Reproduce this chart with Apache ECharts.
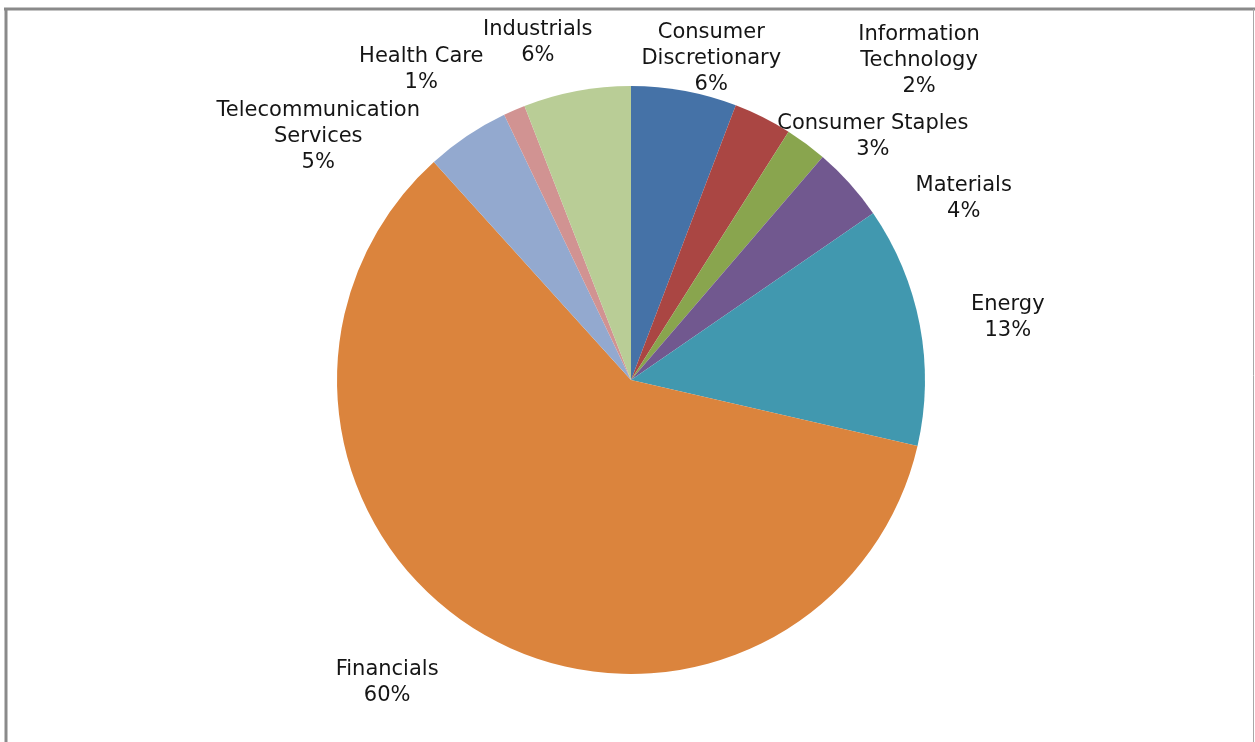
<!DOCTYPE html>
<html>
<head>
<meta charset="utf-8">
<script src="https://cdn.jsdelivr.net/npm/echarts@6/dist/echarts.min.js"></script>
<style>
  html, body { margin: 0; padding: 0; background: #fff; }
  #main { width: 1255px; height: 742px; }
</style>
</head>
<body>
<div id="main"></div>
<script>
// sectors, clockwise from 12 o'clock
const sectors = [
  'Consumer\nDiscretionary',
  'Consumer Staples',
  'Information\nTechnology',
  'Materials',
  'Energy',
  'Financials',
  'Telecommunication\nServices',
  'Health Care',
  'Industrials'
];
const weights = [5.8, 3.2, 2.3, 4.1, 13.2, 59.7, 4.6, 1.2, 5.9];

const colors = ['#4572A7', '#AA4643', '#89A54E', '#71588F', '#4198AF',
  '#DB843D', '#93A9CF', '#D19392', '#B9CD96'];

// label nudges (px) from the point where each slice's middle meets the rim
const labelShift = [[27, -32], [110, 19], [113, -83], [114, 15], [88, -7],
  [-95, 49], [-149, 1], [-93, -41], [-39, -48]];

const cx = 631, cy = 380, radius = 294;

const total = weights.reduce((a, b) => a + b, 0);
const midAngle = [];
let acc = 0;
weights.forEach(w => {
  midAngle.push((acc + w / 2) / total * 2 * Math.PI);
  acc += w;
});

const myChart = echarts.init(document.getElementById('main'));

const option = {
  animation: false,
  color: colors,
  graphic: [
    { type: 'line', shape: { x1: 4, y1: 9, x2: 1255, y2: 9 }, style: { stroke: '#8a8a8a', lineWidth: 3 } },
    { type: 'line', shape: { x1: 6, y1: 8, x2: 6, y2: 742 }, style: { stroke: '#8a8a8a', lineWidth: 3 } },
    { type: 'line', shape: { x1: 1253.5, y1: 9, x2: 1253.5, y2: 742 }, style: { stroke: '#a8a8a8', lineWidth: 1 } }
  ],
  series: [
    {
      type: 'pie',
      center: [cx, cy],
      radius: radius,
      startAngle: 90,
      clockwise: true,
      silent: true,
      data: sectors.map((name, i) => ({ name: name, value: weights[i] })),
      itemStyle: { borderWidth: 0 },
      label: {
        show: true,
        position: 'outside',
        color: '#151515',
        fontFamily: 'DejaVu Sans',
        fontSize: 21,
        lineHeight: 26,
        align: 'center',
        formatter: p => p.name + '\n' + Math.round(p.percent) + '%'
      },
      labelLine: { show: false },
      labelLayout: params => {
        const i = params.dataIndex;
        const a = midAngle[i];
        return {
          x: cx + radius * Math.sin(a) + labelShift[i][0],
          y: cy - radius * Math.cos(a) + labelShift[i][1],
          align: 'center',
          verticalAlign: 'middle'
        };
      }
    }
  ]
};

myChart.setOption(option);
</script>
</body>
</html>
